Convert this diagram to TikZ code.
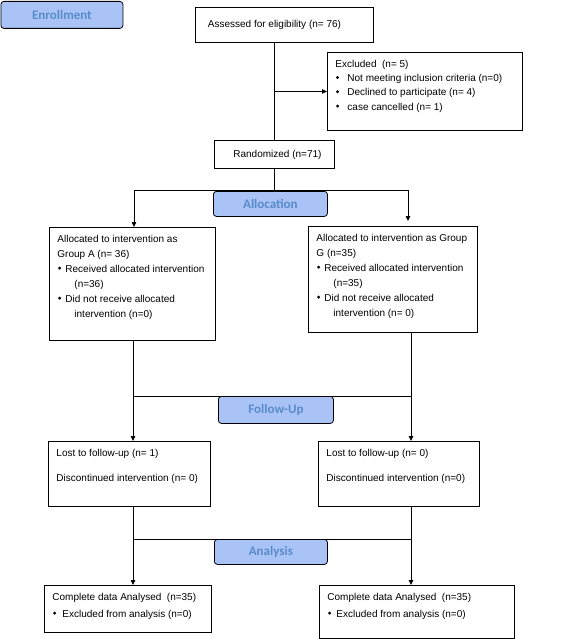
\documentclass[tikz,border=0pt]{standalone}
\usepackage{fontspec}
\setmainfont{Liberation Sans}
\newfontfamily\hdrfont{Carlito}
\usetikzlibrary{arrows.meta,positioning}
\definecolor{hdrfill}{HTML}{A9C3F7}
\definecolor{hdrtext}{HTML}{5A8BC9}
\newcommand{\dmd}{\raisebox{2.4pt}{\rotatebox{45}{\rule{2.3pt}{2.3pt}}}}
\newcommand{\itm}[1][8pt]{\makebox[#1][l]{\hspace{0.5pt}\dmd}}
\newcommand{\inbox}[3]{\parbox[c][#2][t]{#1}{\raggedright #3}}

\begin{document}
\begin{tikzpicture}[x=1pt,y=-1pt,line width=0.8pt,>={Triangle[length=5pt,width=4.5pt]},
    box/.style={draw,line width=0.9pt,anchor=north west,inner xsep=8pt,inner ysep=7.5pt,
        font=\fontsize{10}{15}\selectfont},
    cbox/.style={draw,line width=0.9pt,anchor=north west,inner sep=0pt,
        font=\fontsize{10}{12}\selectfont},
    hdr/.style={draw,rounded corners=3pt,fill=hdrfill,text=hdrtext,anchor=north west,
        inner sep=0pt,line width=0.8pt,font=\hdrfont\bfseries\fontsize{13}{13}\selectfont}]
    \useasboundingbox (0,0) rectangle (567,639);

    % enrollment
    \node[cbox,minimum width=178pt,minimum height=35pt] (ass) at (195,7) {Assessed for eligibility (n= 76)\rule{20pt}{0pt}};
    \node[box] (excl) at (327,52) {\inbox{179pt}{63pt}{\fontsize{10}{14.3}\selectfont
        Excluded~~(n= 5)\\
        \itm[12pt]Not meeting inclusion criteria (n=0)\\
        \itm[12pt]Declined to participate (n= 4)\\
        \itm[12pt]case cancelled (n= 1)}};
    \node[cbox,minimum width=120pt,minimum height=28pt] (rand) at (214,140) {\rule{6pt}{0pt}Randomized (n=71)};

    % allocation
    \node[box] (gA) at (49,227) {\inbox{150pt}{98pt}{%
        Allocated to intervention as\\
        Group A (n= 36)\\
        \itm Received allocated intervention\\
        \hspace*{17pt}(n=36)\\
        \itm Did not receive allocated\\
        \hspace*{17pt}intervention (n=0)}};
    \node[box] (gG) at (308,226) {\inbox{153pt}{91pt}{%
        Allocated to intervention as Group\\
        G (n=35)\\
        \itm Received allocated intervention\\
        \hspace*{17pt}(n=35)\\
        \itm Did not receive allocated\\
        \hspace*{17pt}intervention (n= 0)}};

    % follow-up
    \node[box] (lostA) at (48,441) {\inbox{146pt}{50pt}{%
        Lost to follow-up (n= 1)\\[10pt]
        Discontinued intervention (n= 0)}};
    \node[box] (lostG) at (318,441) {\inbox{145pt}{50pt}{%
        Lost to follow-up (n= 0)\\[10pt]
        Discontinued intervention (n=0)}};

    % analysis
    \node[box] (anA) at (44,585) {\inbox{151pt}{32pt}{\fontsize{10}{17}\selectfont
        Complete data Analysed~~(n=35)\\
        \itm[10pt]Excluded from analysis (n=0)}};
    \node[box] (anG) at (319,585) {\inbox{179pt}{38pt}{\fontsize{10}{17}\selectfont
        Complete data Analysed~~(n=35)\\
        \itm[9pt]Excluded from analysis (n=0)}};

    \coordinate (sl) at (134,190);
    \coordinate (sr) at (408,190);
    \coordinate (fl) at (133,396);
    \coordinate (fr) at (411,396);
    \coordinate (al) at (133,539);
    \coordinate (ar) at (411,539);

    \draw (rand.north |- ass.south) -- (rand.north);
    \draw[->] (rand.north |- excl.west) -- (excl.west);
    \draw (rand.south) -- (rand.south |- sl);
    \draw (sl) -- (sr);
    \draw[->] (sl) -- (sl |- gA.north);
    \draw[->,shorten >=5pt] (sr) -- (sr |- gG.north);

    \draw (fl |- gA.south) -- (fl) -- (fr) -- (fr |- gG.south);
    \draw[->] (fl) -- (fl |- lostA.north);
    \draw[->] (fr) -- (fr |- lostG.north);

    \draw (al |- lostA.south) -- (al) -- (ar) -- (ar |- lostG.south);
    \draw[->] (al) -- (al |- anA.north);
    \draw[->] (ar) -- (ar |- anG.north);

    % stage labels
    \node[hdr,minimum width=122pt,minimum height=27pt] (enr) at (0.5,1) {Enrollment};
    \node[hdr,minimum width=114pt,minimum height=25pt] (alloc) at (213,191) {Allocation};
    \node[hdr,minimum width=115pt,minimum height=27pt] (fu) at (218,396) {Follow-Up};
    \node[hdr,minimum width=113pt,minimum height=25pt] (an) at (214,539) {Analysis};
\end{tikzpicture}
\end{document}
